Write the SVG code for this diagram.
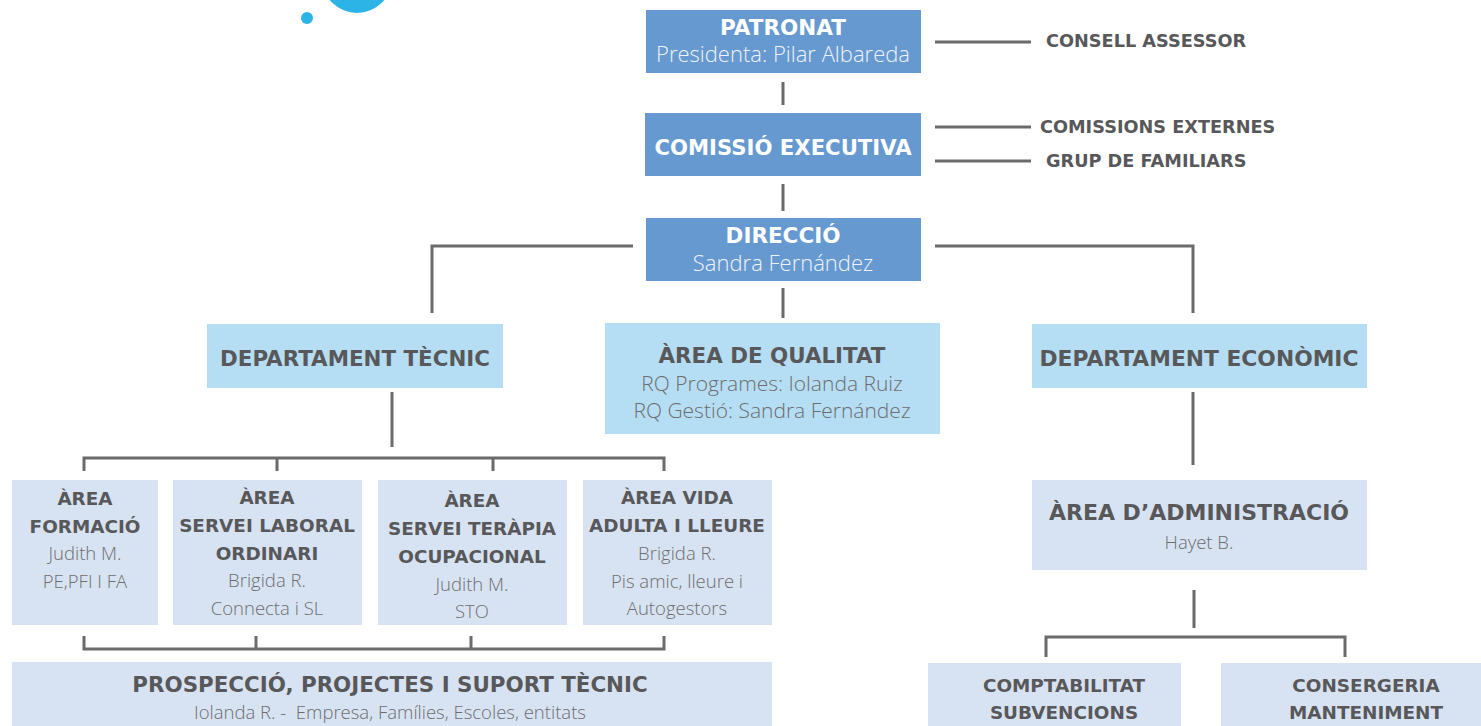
<svg xmlns="http://www.w3.org/2000/svg" width="1481" height="726" viewBox="0 0 1481 726">
<style>
.dk{fill:#6699cf}
.lb{fill:#b5ddf3}
.pl{fill:#d7e3f2}
.ln{stroke:#6b6b6d;stroke-width:3;fill:none}
text{font-family:"Liberation Sans",Arial,sans-serif;text-anchor:middle}
.hw,.hg,.sg,.rl{font-family:"DejaVu Sans","Liberation Sans",sans-serif;font-weight:bold}
.hw{fill:#fff;font-size:21.5px}
.nw{font-family:"Open Sans","Liberation Sans",sans-serif;font-weight:300;fill:#eef3fa;font-size:22px}
.hg{fill:#58585a;font-size:21.4px}
.sg{fill:#58585a;font-size:18.4px}
.ng{font-family:"Open Sans","Liberation Sans",sans-serif;font-weight:300;fill:#6d6d6f;font-size:18.5px}
.rl{fill:#58585a;font-size:17.7px;text-anchor:start}
</style>
<rect width="1481" height="726" fill="#fff"/>
<circle cx="357" cy="-22" r="35" fill="#2db4e6"/>
<circle cx="307" cy="18" r="6" fill="#2db4e6"/>
<g id="connectors">
<path class="ln" d="M783 82V105M783 184V211M783 288V318"/>
<path class="ln" d="M935 42H1031M935 127H1031M935 161H1031"/>
<path class="ln" d="M633 246H432V313M935 246H1193V313"/>
<path class="ln" d="M392 392V447M84 471V458H664V471M277 458V471M493 458V471"/>
<path class="ln" d="M84 636V649H664V636M256 649V636M471 649V636"/>
<path class="ln" d="M1193 392V465M1194 590V628M1046 657V637H1345V657"/>
</g>
<g id="patronat"><rect class="dk" x="646" y="10" width="275" height="63"/><text class="hw" x="783" y="35">PATRONAT</text><text class="nw" x="783" y="62">Presidenta: Pilar Albareda</text></g>
<g id="comissio"><rect class="dk" x="645" y="113" width="276" height="63"/><text class="hw" x="783" y="155" style="font-size:21.2px">COMISSIÓ EXECUTIVA</text></g>
<g id="direccio"><rect class="dk" x="646" y="218" width="275" height="63"/><text class="hw" x="783" y="243">DIRECCIÓ</text><text class="nw" x="783" y="271">Sandra Fernández</text></g>
<g id="consell"><text class="rl" x="1046" y="47">CONSELL ASSESSOR</text></g>
<g id="comissions"><text class="rl" x="1040" y="133">COMISSIONS EXTERNES</text></g>
<g id="grup"><text class="rl" x="1046" y="167">GRUP DE FAMILIARS</text></g>
<g id="dept-tecnic"><rect class="lb" x="207" y="324" width="296" height="64"/><text class="hg" x="355" y="366">DEPARTAMENT TÈCNIC</text></g>
<g id="qualitat"><rect class="lb" x="605" y="323" width="335" height="111"/><text class="hg" x="772" y="363">ÀREA DE QUALITAT</text><text class="ng" x="772" y="391" style="font-size:21px">RQ Programes: Iolanda Ruiz</text><text class="ng" x="772" y="418" style="font-size:21px">RQ Gestió: Sandra Fernández</text></g>
<g id="dept-economic"><rect class="lb" x="1032" y="324" width="335" height="64"/><text class="hg" x="1199" y="366" style="font-size:21.8px">DEPARTAMENT ECONÒMIC</text></g>
<g id="formacio"><rect class="pl" x="12" y="480" width="146" height="145"/><text class="sg" x="85" y="505">ÀREA</text><text class="sg" x="85" y="533">FORMACIÓ</text><text class="ng" x="85" y="560">Judith M.</text><text class="ng" x="85" y="588">PE,PFI I FA</text></g>
<g id="laboral"><rect class="pl" x="173" y="480" width="189" height="145"/><text class="sg" x="267" y="504">ÀREA</text><text class="sg" x="267" y="532">SERVEI LABORAL</text><text class="sg" x="267" y="560">ORDINARI</text><text class="ng" x="267" y="587">Brigida R.</text><text class="ng" x="267" y="615">Connecta i SL</text></g>
<g id="terapia"><rect class="pl" x="378" y="480" width="189" height="145"/><text class="sg" x="472" y="507">ÀREA</text><text class="sg" x="472" y="535">SERVEI TERÀPIA</text><text class="sg" x="472" y="563">OCUPACIONAL</text><text class="ng" x="472" y="591">Judith M.</text><text class="ng" x="472" y="618">STO</text></g>
<g id="vida"><rect class="pl" x="583" y="480" width="189" height="145"/><text class="sg" x="677" y="504">ÀREA VIDA</text><text class="sg" x="677" y="532">ADULTA I LLEURE</text><text class="ng" x="677" y="560">Brigida R.</text><text class="ng" x="677" y="588">Pis amic, lleure i</text><text class="ng" x="677" y="615">Autogestors</text></g>
<g id="prospeccio"><rect class="pl" x="12" y="662" width="760" height="70"/><text class="hg" x="390" y="692">PROSPECCIÓ, PROJECTES I SUPORT TÈCNIC</text><text class="ng" x="390" y="719" style="white-space:pre">Iolanda R. -  Empresa, Famílies, Escoles, entitats</text></g>
<g id="administracio"><rect class="pl" x="1032" y="480" width="335" height="90"/><text class="hg" x="1199" y="520" style="font-size:22px">ÀREA D’ADMINISTRACIÓ</text><text class="ng" x="1199" y="549">Hayet B.</text></g>
<g id="comptabilitat"><rect class="pl" x="928" y="663" width="253" height="70"/><text class="sg" x="1064" y="692">COMPTABILITAT</text><text class="sg" x="1064" y="719">SUBVENCIONS</text></g>
<g id="consergeria"><rect class="pl" x="1221" y="663" width="265" height="70"/><text class="sg" x="1366" y="692">CONSERGERIA</text><text class="sg" x="1366" y="719">MANTENIMENT</text></g>
</svg>
